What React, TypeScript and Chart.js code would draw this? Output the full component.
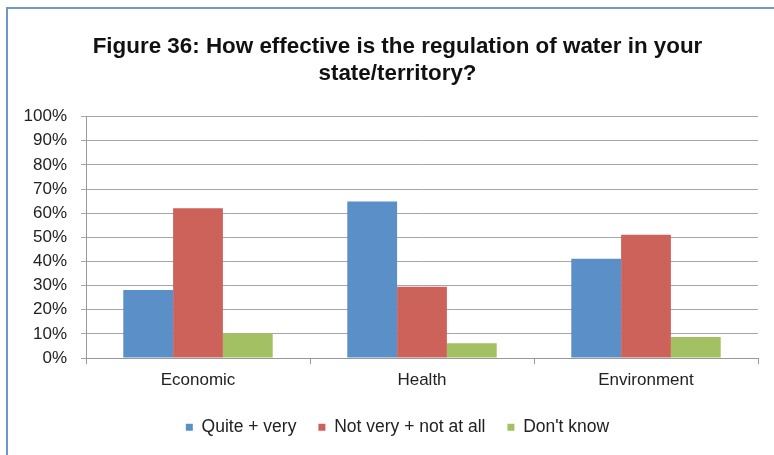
import React, { useEffect, useRef } from "react";
import { Chart, registerables } from "chart.js";

Chart.register(...registerables);

const categories = ["Economic", "Health", "Environment"];
const seriesNames = ["Quite + very", "Not very + not at all", "Don't know"];
const quiteVery = [28.2, 64.9, 41.2];
const notVery = [62.1, 29.6, 51.1];
const dontKnow = [10.3, 6.1, 8.7];
const yTicks = [0, 10, 20, 30, 40, 50, 60, 70, 80, 90, 100];
const titleLines = ["Figure 36: How effective is the regulation of water in your", "state/territory?"];
const colors = ["#5B8FC8", "#CD625B", "#A3C162"];

const FONT = "Arial, 'Liberation Sans', sans-serif";

export default function App() {
  const ref = useRef<HTMLCanvasElement | null>(null);
  useEffect(() => {
    if (!ref.current) return;
    const chart = new Chart(ref.current, {
      type: "bar",
      data: {
        labels: categories,
        datasets: [quiteVery, notVery, dontKnow].map((d, i) => ({
          label: seriesNames[i],
          data: d,
          backgroundColor: colors[i],
          borderWidth: 0,
          categoryPercentage: 0.667,
          barPercentage: 1,
        })),
      },
      options: {
        animation: false,
        responsive: false,
        maintainAspectRatio: false,
        layout: { padding: { left: 0, right: 0, top: 0, bottom: 23 } },
        plugins: {
          tooltip: { enabled: false },
          title: {
            display: true,
            text: titleLines,
            color: "#111",
            font: { family: FONT, size: 22.4, weight: "bold", lineHeight: 1.22 },
            padding: { top: 24, bottom: 29 },
          },
          legend: {
            position: "bottom",
            labels: {
              color: "#222",
              font: { family: FONT, size: 17.5 },
              boxWidth: 7,
              boxHeight: 7,
              padding: 22,
            },
          },
        },
        scales: {
          x: {
            grid: { display: true, drawOnChartArea: false, drawTicks: true, tickLength: 6, color: "#999" },
            border: { display: true, color: "#999" },
            ticks: { color: "#222", font: { family: FONT, size: 17 }, padding: 6 },
          },
          y: {
            min: 0,
            max: 100,
            afterBuildTicks: (s: any) => {
              s.ticks = yTicks.map((v) => ({ value: v }));
            },
            afterFit: (s: any) => {
              s.width = 78;
            },
            grid: { color: "#A6A6A6", tickLength: 5 },
            border: { display: true, color: "#999" },
            ticks: {
              color: "#222",
              font: { family: FONT, size: 17 },
              padding: 14,
              callback: (v: any) => v + "%",
            },
          },
          yr: {
            position: "right",
            display: true,
            min: 0,
            max: 100,
            grid: { display: false, drawOnChartArea: false, drawTicks: false },
            border: { display: false },
            ticks: { display: false },
            afterFit: (s: any) => {
              s.width = 29;
            },
          },
        },
      },
    });
    return () => chart.destroy();
  }, []);

  return (
    <div style={{ position: "fixed", left: 0, top: 0, width: 774, height: 455, overflow: "hidden", background: "#fff" }}>
      <div
        style={{
          position: "absolute",
          left: 6,
          top: 7,
          width: 800,
          height: 500,
          borderLeft: "2px solid #6F96CF",
          borderTop: "2px solid #6F96CF",
        }}
      />
      <canvas ref={ref} width={779} height={460} style={{ position: "absolute", left: 8, top: 9, width: 779, height: 460 }} />
    </div>
  );
}
